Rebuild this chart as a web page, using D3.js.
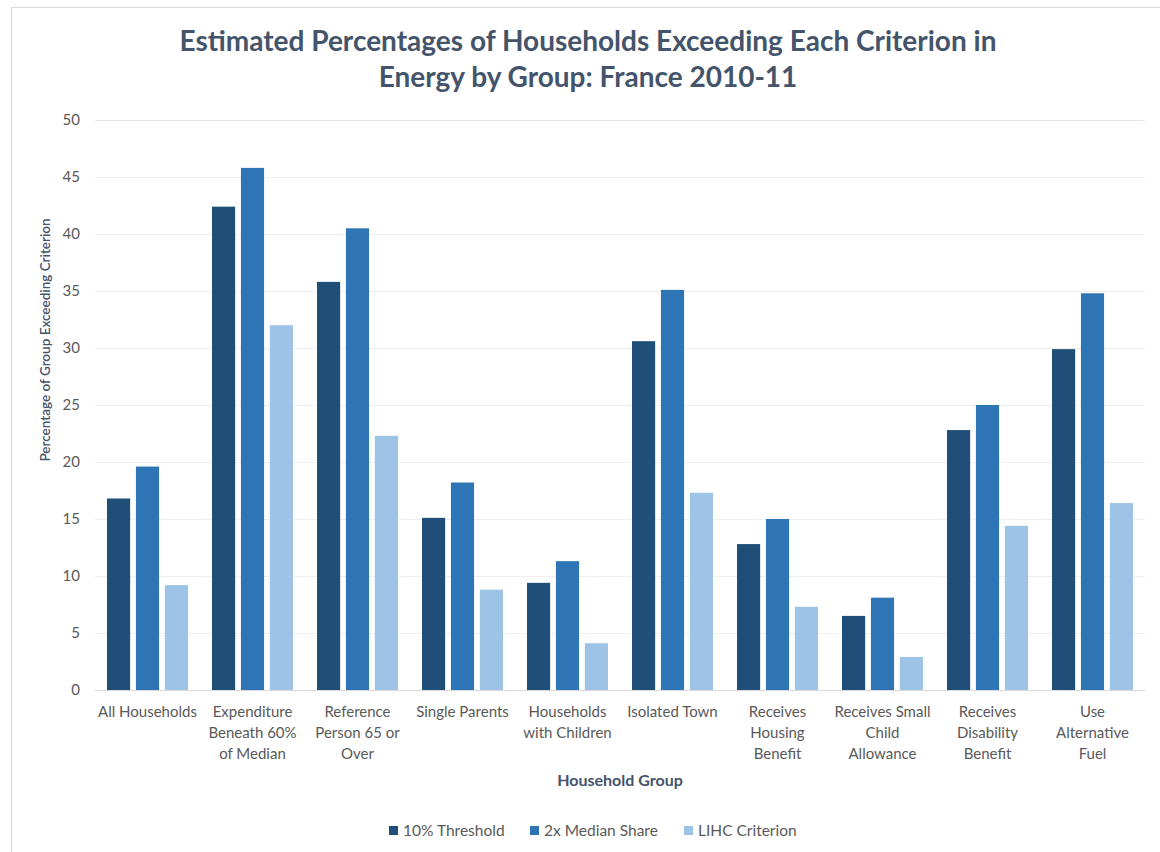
<!DOCTYPE html>
<html>
<head>
<meta charset="utf-8">
<script src="https://cdn.jsdelivr.net/npm/d3@7"></script>
<style>
  body { margin: 0; background: #fff; }
  svg { display: block; }
</style>
</head>
<body>
<svg id="Target" width="1160" height="852"></svg>
<script>
// household groups (line breaks follow the original label wrapping)
const groups = [
  "All Households",
  "Expenditure\nBeneath 60%\nof Median",
  "Reference\nPerson 65 or\nOver",
  "Single Parents",
  "Households\nwith Children",
  "Isolated Town",
  "Receives\nHousing\nBenefit",
  "Receives Small\nChild\nAllowance",
  "Receives\nDisability\nBenefit",
  "Use\nAlternative\nFuel"
];

const seriesNames = ["10% Threshold", "2x Median Share", "LIHC Criterion"];

const threshold10 = [16.8, 42.4, 35.8, 15.1, 9.4, 30.6, 12.8, 6.5, 22.8, 29.9];
const medianShare2x = [19.6, 45.8, 40.5, 18.2, 11.3, 35.1, 15.0, 8.1, 25.0, 34.8];
const lihc = [9.2, 32.0, 22.3, 8.8, 4.1, 17.3, 7.3, 2.9, 14.4, 16.4];

const yTicks = [0, 5, 10, 15, 20, 25, 30, 35, 40, 45, 50];

const colors = ["#1f4e79", "#2e75b6", "#9dc3e6"];
const font = "Lato, 'Open Sans', sans-serif";

const svg = d3.select("#Target");

// chart frame
svg.append("rect")
  .attr("x", 11.5).attr("y", 7.5)
  .attr("width", 1170).attr("height", 870)
  .attr("fill", "#fff")
  .attr("stroke", "#d9d9d9");

const allSeries = [threshold10, medianShare2x, lihc];
const rows = groups.map((g, i) => ({
  group: g,
  values: allSeries.map((s, k) => ({ series: seriesNames[k], value: s[i], k }))
}));

const x0 = d3.scaleBand()
  .domain(groups)
  .range([95, 1145])
  .paddingInner(0.2286)
  .paddingOuter(0.1143);

const x1 = d3.scaleBand()
  .domain(seriesNames)
  .range([0, x0.bandwidth()])
  .paddingInner(0.2);

const y = d3.scaleLinear().domain([0, 50]).range([690, 120]);

// gridlines
svg.append("g")
  .selectAll("line")
  .data(yTicks.filter(d => d > 0))
  .join("line")
  .attr("x1", 95).attr("x2", 1145)
  .attr("y1", d => Math.round(y(d)) + 0.5)
  .attr("y2", d => Math.round(y(d)) + 0.5)
  .attr("stroke", d => d === 50 ? "#dfe6ef" : "#eeeeee")
  .attr("stroke-width", 1);

// y tick labels
svg.append("g")
  .selectAll("text")
  .data(yTicks)
  .join("text")
  .attr("x", 80)
  .attr("y", d => y(d) + 5)
  .attr("text-anchor", "end")
  .attr("font-family", font)
  .attr("font-size", 15)
  .attr("fill", "#595959")
  .text(d => d);

// bars
const groupG = svg.append("g")
  .selectAll("g")
  .data(rows)
  .join("g")
  .attr("transform", d => `translate(${x0(d.group)},0)`);

groupG.selectAll("rect")
  .data(d => d.values)
  .join("rect")
  .attr("x", d => x1(d.series))
  .attr("y", d => y(d.value))
  .attr("width", x1.bandwidth())
  .attr("height", d => y(0) - y(d.value))
  .attr("fill", d => colors[d.k]);

// zero axis line
svg.append("line")
  .attr("x1", 95).attr("x2", 1145)
  .attr("y1", y(0) + 0.5).attr("y2", y(0) + 0.5)
  .attr("stroke", "#d9d9d9");

// category labels
const labelG = svg.append("g")
  .selectAll("text")
  .data(groups)
  .join("text")
  .attr("x", d => x0(d) + x0.bandwidth() / 2)
  .attr("y", 717)
  .attr("text-anchor", "middle")
  .attr("font-family", font)
  .attr("font-size", 15)
  .attr("fill", "#595959");

labelG.selectAll("tspan")
  .data(d => d.split("\n"))
  .join("tspan")
  .attr("x", function () { return d3.select(this.parentNode).attr("x"); })
  .attr("dy", (d, i) => i === 0 ? 0 : 21)
  .text(d => d);

// title
svg.append("text")
  .attr("x", 588).attr("y", 51)
  .attr("text-anchor", "middle")
  .attr("font-family", font)
  .attr("font-weight", "bold")
  .attr("font-size", 28)
  .attr("fill", "#44546a")
  .text("Estimated Percentages of Households Exceeding Each Criterion in");

svg.append("text")
  .attr("x", 588).attr("y", 87)
  .attr("text-anchor", "middle")
  .attr("font-family", font)
  .attr("font-weight", "bold")
  .attr("font-size", 28)
  .attr("fill", "#44546a")
  .text("Energy by Group: France 2010-11");

// axis titles
svg.append("text")
  .attr("transform", "translate(50,340) rotate(-90)")
  .attr("text-anchor", "middle")
  .attr("font-family", font)
  .attr("font-size", 13.5)
  .attr("font-weight", 600)
  .attr("fill", "#44546a")
  .text("Percentage of Group Exceeding Criterion");

svg.append("text")
  .attr("x", 620).attr("y", 786)
  .attr("text-anchor", "middle")
  .attr("font-family", font)
  .attr("font-size", 16)
  .attr("font-weight", "bold")
  .attr("fill", "#44546a")
  .text("Household Group");

// legend
const legendX = [389, 530, 684];
const legend = svg.append("g")
  .selectAll("g")
  .data(seriesNames)
  .join("g")
  .attr("transform", (d, i) => `translate(${legendX[i]},826)`);

legend.append("rect")
  .attr("width", 9).attr("height", 9)
  .attr("fill", (d, i) => colors[i]);

legend.append("text")
  .attr("x", 14).attr("y", 9.5)
  .attr("font-family", font)
  .attr("font-size", 15.5)
  .attr("fill", "#595959")
  .text(d => d);
</script>
</body>
</html>
